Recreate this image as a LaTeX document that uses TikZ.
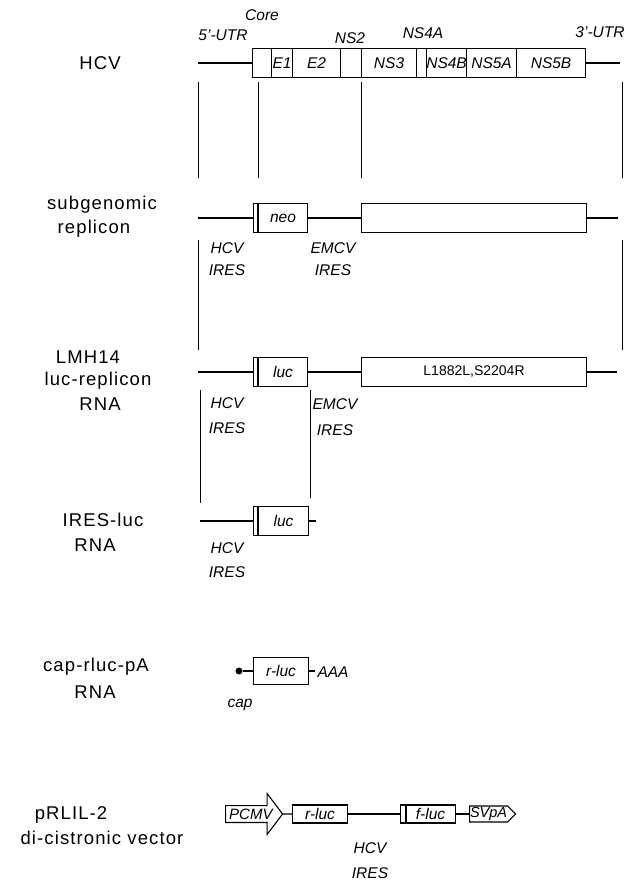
\documentclass[tikz,border=0pt]{standalone}
\usepackage{fontspec}
\setmainfont{Liberation Sans}
\usetikzlibrary{shapes.arrows, shapes.symbols}
\newcommand{\genefont}{\itshape\fontsize{15.5}{17}\selectfont}
\newcommand{\namefont}{\fontsize{18.5}{20}\selectfont\addfontfeature{LetterSpace=6}}

\begin{document}
\begin{tikzpicture}[
    x=1pt, y=-1pt,
    line width=1.1pt,
    gene/.style={draw, inner sep=0pt, minimum height=29pt, font=\genefont},
    smallgene/.style={draw, inner sep=0pt, minimum height=18pt, font=\genefont},
    genetag/.style={font=\genefont, inner sep=0pt},
    rowname/.style={font=\namefont, inner sep=0pt},
    guide/.style={line width=1pt}
  ]
  \useasboundingbox (0,0) rectangle (638,880);

  % construct names
  \node[rowname] (nhcv) at (100,63) {HCV};
  \node[rowname] (nsub1) at (102,205) {subgenomic};
  \node[rowname] (nsub2) at (94,229) {replicon};
  \node[rowname] (nlmh1) at (88,357) {LMH14};
  \node[rowname] (nlmh2) at (98,381) {luc-replicon};
  \node[rowname] (nlmh3) at (100,404) {RNA};
  \node[rowname] (nires1) at (103,520) {IRES-luc};
  \node[rowname] (nires2) at (95,545) {RNA};
  \node[rowname] (ncap1) at (96,667) {cap-rluc-pA};
  \node[rowname] (ncap2) at (95,692) {RNA};
  \node[rowname] (nvec1) at (71,815) {pRLIL-2};
  \node[rowname] (nvec2) at (102,838) {di-cistronic vector};

  % HCV genome
  \node[gene, minimum width=19pt, anchor=west] (core) at (252,63) {};
  \node[gene, minimum width=21pt, anchor=west] (e1) at (271,63) {E1};
  \node[gene, minimum width=48pt, anchor=west] (e2) at (292,63) {E2};
  \node[gene, minimum width=21pt, anchor=west] (ns2) at (340,63) {};
  \node[gene, minimum width=55pt, anchor=west] (ns3) at (361,63) {NS3};
  \node[gene, minimum width=10pt, anchor=west] (ns4a) at (416,63) {};
  \node[gene, minimum width=40pt, anchor=west] (ns4b) at (426,63) {\makebox[40pt]{NS4B}};
  \node[gene, minimum width=50pt, anchor=west] (ns5a) at (466,63) {NS5A};
  \node[gene, minimum width=69pt, anchor=west] (ns5b) at (516,63) {NS5B};
  \coordinate (hl) at (198,63);
  \coordinate (hr) at (620,63);
  \draw (hl) -- (core.west);
  \draw (ns5b.east) -- (hr);

  \node[genetag] (tcore) at (262,15) {Core};
  \node[genetag] (t5utr) at (223,35) {5'-UTR};
  \node[genetag] (tns2) at (350,38) {NS2};
  \node[genetag] (tns4a) at (423,33) {NS4A};
  \node[genetag] (t3utr) at (600,32) {3'-UTR};

  \foreach \x in {198,258,361,622}
    \draw[guide] (\x,82) -- (\x,178);

  % subgenomic replicon
  \node[gene, minimum width=54pt, anchor=west] (neo) at (253,218) {\hspace*{5pt}neo};
  \draw ([xshift=5pt]neo.north west) -- ([xshift=5pt]neo.south west);
  \node[gene, minimum width=225pt, anchor=west] (nsa) at (361,218) {};
  \coordinate (sl) at (198,218);
  \coordinate (sr) at (618,218);
  \draw (sl) -- (neo.west);
  \draw (neo.east) -- (nsa.west);
  \draw (nsa.east) -- (sr);

  \node[genetag] (sh1) at (227,248) {HCV};
  \node[genetag] (sh2) at (227,270) {IRES};
  \node[genetag] (se1) at (333,248) {EMCV};
  \node[genetag] (se2) at (333,270) {IRES};

  \foreach \x in {198,622}
    \draw[guide] (\x,240) -- (\x,350);

  % LMH14 luc-replicon
  \node[gene, minimum width=54pt, anchor=west] (luc) at (253,372) {\hspace*{5pt}luc};
  \draw ([xshift=5pt]luc.north west) -- ([xshift=5pt]luc.south west);
  \node[gene, minimum width=225pt, anchor=west, font=\fontsize{14}{16}\selectfont] (nsb) at (361,372) {L1882L,S2204R};
  \coordinate (ll) at (198,372);
  \coordinate (lr) at (617,372);
  \draw (ll) -- (luc.west);
  \draw (luc.east) -- (nsb.west);
  \draw (nsb.east) -- (lr);

  \node[genetag] (lh1) at (227,403) {HCV};
  \node[genetag] (lh2) at (227,428) {IRES};
  \node[genetag] (le1) at (335,404) {EMCV};
  \node[genetag] (le2) at (335,430) {IRES};

  \draw[guide] (200,390) -- (200,503);
  \draw[guide] (310,390) -- (310,498);

  % IRES-luc RNA
  \node[gene, minimum width=55pt, anchor=west] (luc2) at (253,521) {\hspace*{5pt}luc};
  \draw ([xshift=5pt]luc2.north west) -- ([xshift=5pt]luc2.south west);
  \coordinate (il) at (200,521);
  \coordinate (ir) at (316,521);
  \draw (il) -- (luc2.west);
  \draw (luc2.east) -- (ir);

  \node[genetag] (ih1) at (227,548) {HCV};
  \node[genetag] (ih2) at (227,572) {IRES};

  % cap-rluc-pA RNA
  \node[circle, fill, inner sep=0pt, minimum size=7pt] (capdot) at (239,671) {};
  \node[gene, minimum width=55pt, minimum height=27pt, anchor=west] (rluc) at (253,671) {r-luc};
  \coordinate (cr) at (315,671);
  \draw (capdot) -- (rluc.west);
  \draw (rluc.east) -- (cr);
  \node[genetag, anchor=west] (aaa) at (317,672) {AAA};
  \node[genetag] (tcap) at (240,705) {cap};

  % pRLIL-2 vector
  \node[single arrow, draw, font=\itshape\fontsize{15}{17}\selectfont,
        inner xsep=0pt, inner ysep=2.6pt, single arrow head extend=12pt,
        single arrow tip angle=106, minimum height=57pt, anchor=west] (pcmv) at (225,814) {PCMV};
  \node[smallgene, minimum width=55pt, anchor=west] (rluc2) at (292,814) {r-luc};
  \node[smallgene, minimum width=55pt, anchor=west] (fluc) at (400,814) {\hspace*{5pt}f-luc};
  \draw ([xshift=6pt]fluc.north west) -- ([xshift=6pt]fluc.south west);
  \node[signal, signal to=east, draw, font=\itshape\fontsize{14.5}{16}\selectfont,
        inner xsep=0.5pt, inner ysep=0.5pt, minimum height=16pt, anchor=west] (svpa) at (469,814) {SVpA};
  \draw (pcmv.tip) -- (rluc2.west);
  \draw (rluc2.east) -- (fluc.west);
  \draw (fluc.east) -- (svpa.west);

  \node[genetag] (vh1) at (370,848) {HCV};
  \node[genetag] (vh2) at (370,873) {IRES};

\end{tikzpicture}
\end{document}
